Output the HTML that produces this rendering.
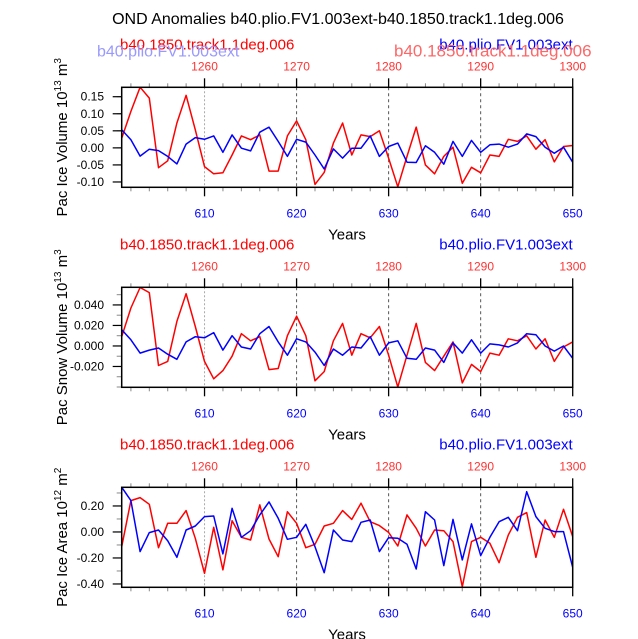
<!DOCTYPE html>
<html><head><meta charset="utf-8"><style>
html,body{margin:0;padding:0;background:#fff;}
svg{display:block;font-family:"Liberation Sans",sans-serif;}
</style></head><body>
<svg id="c" width="638" height="639" viewBox="0 0 638 639" xmlns="http://www.w3.org/2000/svg">
<text x="338" y="24" font-size="16" text-anchor="middle">OND Anomalies b40.plio.FV1.003ext-b40.1850.track1.1deg.006</text>
</svg>
<script>
const years = []; for (let y = 601; y <= 650; y++) years.push(y);
const iceVolRed = [0.028,0.107,0.178,0.146,-0.058,-0.038,0.073,0.154,0.053,-0.055,-0.076,-0.073,-0.021,0.035,0.024,0.038,-0.068,-0.068,0.035,0.079,0.024,-0.107,-0.072,0.014,0.073,-0.021,0.038,0.033,0.05,-0.03,-0.114,-0.025,0.061,-0.05,-0.076,-0.025,0.002,-0.104,-0.057,-0.073,-0.021,-0.025,0.025,0.019,0.035,-0.004,0.024,-0.041,0.004,0.007];
const iceVolBlue = [0.053,0.024,-0.024,-0.004,-0.008,-0.025,-0.047,0.011,0.03,0.025,0.035,-0.013,0.038,-0.001,-0.009,0.046,0.061,0.019,-0.025,0.025,0.017,-0.021,-0.062,-0.003,-0.03,-0.001,-0.001,0.035,-0.025,0.004,0.014,-0.042,-0.043,0.006,-0.013,-0.048,0.019,-0.025,0.022,-0.013,0.009,0.011,0.002,0.011,0.041,0.033,0.002,-0.016,0.002,-0.042];
const snowRed = [0.009,0.037,0.057,0.052,-0.019,-0.015,0.024,0.051,0.019,-0.015,-0.032,-0.024,-0.01,0.012,0.005,0.009,-0.023,-0.022,0.01,0.029,0.01,-0.034,-0.025,0.005,0.022,-0.009,0.012,0.008,0.019,-0.009,-0.04,-0.009,0.022,-0.016,-0.024,-0.01,0.004,-0.036,-0.018,-0.025,-0.007,-0.009,0.007,0.005,0.01,-0.003,0.007,-0.015,-0.001,0.004];
const snowBlue = [0.016,0.006,-0.007,-0.004,-0.002,-0.008,-0.013,0.004,0.009,0.008,0.013,-0.004,0.01,-0.001,-0.003,0.012,0.019,0.004,-0.009,0.007,0.004,-0.006,-0.019,-0.003,-0.009,-0.001,-0.002,0.009,-0.009,0.003,0.005,-0.012,-0.013,-0.002,-0.004,-0.016,0.003,-0.007,0.006,-0.007,0.002,0.001,-0.001,0.003,0.012,0.011,0,-0.005,0,-0.012];
const areaRed = [-0.113,0.241,0.264,0.213,-0.121,0.067,0.067,0.164,-0.049,-0.318,0.036,-0.292,0.087,-0.041,-0.062,0.208,-0.054,-0.19,0.156,0.067,-0.121,-0.095,0.046,0.067,0.164,0.097,0.221,0.079,0.049,-0.003,-0.108,0.131,0.028,-0.108,0.015,0.01,-0.074,-0.421,-0.074,-0.041,-0.087,-0.236,-0.023,0.113,0.149,-0.195,0.092,-0.041,0.174,-0.036];
const areaBlue = [0.344,0.241,-0.151,-0.005,0.015,-0.067,-0.195,0.015,0.046,0.118,0.123,-0.169,0.182,-0.041,0.01,0.131,0.231,0.105,-0.056,-0.041,0.059,-0.113,-0.313,0.015,-0.062,-0.074,0.074,0.092,-0.151,-0.044,-0.049,-0.095,-0.285,0.156,0.092,-0.259,0.097,-0.215,0.062,-0.182,-0.041,0.079,0.113,0.01,0.31,0.118,0.028,0.003,0.003,-0.272];
const xTicks = [610,620,630,640,650];
const topTicks = ["1260","1270","1280","1290","1300"];
const ticks1 = [0.15,0.10,0.05,0.00,-0.05,-0.10];
const labels1 = ["0.15","0.10","0.05","0.00","-0.05","-0.10"];
const ticks2 = [0.04,0.02,0,-0.02];
const labels2 = ["0.040","0.020","0.000","-0.020"];
const ticks3 = [0.2,0,-0.2,-0.4];
const labels3 = ["0.20","0.00","-0.20","-0.40"];

const NS = "http://www.w3.org/2000/svg";
const svg = document.getElementById('c');
function mk(tag, attrs, parent, txt){const e=document.createElementNS(NS,tag);for(const k in attrs)e.setAttribute(k,attrs[k]);if(txt!==undefined)e.textContent=txt;(parent||svg).appendChild(e);return e;}

const L=121.7, R=572.7;
function xs(y){return L+(y-601)*(R-L)/49;}

function panel(id, top, ymax, ymin, red, blue, ticks, labels, minorStep, titleMain, supExp, unitSup, faint){
  const bot=top+100;
  const g=mk('g',{});
  
  
  const ys=v=>top+(ymax-v)/(ymax-ymin)*100;
  // headers
  const h1=mk('text',{x:120,y:top-38,'font-size':15,fill:'#f00'},g,'b40.1850.track1.1deg.006');
  
  
  const h2=mk('text',{x:R,y:top-38,'font-size':15,fill:'#00f','text-anchor':'end'},g,'b40.plio.FV1.003ext');
  
  
  if(faint){
    mk('text',{x:97,y:top-31,'font-size':16,fill:'#99f'},g,'b40.plio.FV1.003ext');
    mk('text',{x:394,y:top-31,'font-size':17,fill:'#f66'},g,'b40.1850.track1.1deg.006');
  }
  // grid
  [610,620,630,640].forEach(yy=>{
    const gl=mk('line',{x1:xs(yy),x2:xs(yy),y1:top,y2:bot,stroke:yy==610?'#aaa':'#555','stroke-width':1,'stroke-dasharray':yy==610?'2,2':'3,3'},g);
    
    
  });
  // x ticks
  for(let yy=602;yy<=650;yy+=2){
    const maj=yy%10==0;
    mk('line',{x1:xs(yy),x2:xs(yy),y1:top,y2:top-(maj?9:4),stroke:maj?'#000':'#888','stroke-width':maj?1.3:1},g);
    mk('line',{x1:xs(yy),x2:xs(yy),y1:bot,y2:bot+(maj?9:4),stroke:maj?'#000':'#888','stroke-width':maj?1.3:1},g);
  }
  xTicks.forEach((yy,i)=>{
    const t=mk('text',{x:xs(yy),y:bot+30,'font-size':12,fill:'#00f','text-anchor':'middle'},g,String(yy));
    
    
    const t2=mk('text',{x:xs(yy),y:top-17,'font-size':12,fill:'#f33','text-anchor':'middle'},g,topTicks[i]);
    
    
  });
  const xt=mk('text',{x:347,y:bot+52,'font-size':15,'text-anchor':'middle'},g,'Years');
  
  
  // y minor ticks
  for(let v=Math.ceil(ymin/minorStep)*minorStep; v<=ymax; v+=minorStep){
    mk('line',{x1:L,x2:L-5,y1:ys(v),y2:ys(v),stroke:'#888'},g);
  }
  ticks.forEach((v,i)=>{
    mk('line',{x1:L,x2:L-9,y1:ys(v),y2:ys(v),stroke:'#000','stroke-width':1.2},g);
    const t=mk('text',{x:104,y:ys(v)+4,'font-size':12,'text-anchor':'end'},g,labels[i]);
    
    
  });
  // y title
  const yt=mk('text',{transform:`translate(67,${top+50}) rotate(-90)`,'font-size':15,'text-anchor':'middle'},g);
  
  
  mk('tspan',{},yt,titleMain+' 10');
  mk('tspan',{dy:-6,'font-size':10},yt,supExp);
  mk('tspan',{dy:6},yt,' m');
  mk('tspan',{dy:-6,'font-size':10},yt,unitSup);
  // series
  const clip=mk('clipPath',{id:id+'-clip'},g);
  mk('rect',{x:L,y:top,width:R-L,height:100},clip);
  [[red,'#f00','red-series'],[blue,'#00f','blue-series']].forEach(([d,c,n])=>{
    const p=mk('polyline',{points:d.map((v,i)=>xs(years[i]).toFixed(1)+','+ys(v).toFixed(1)).join(' '),fill:'none',stroke:c,'stroke-width':1.5,'stroke-linejoin':'round','clip-path':`url(#${id}-clip)`},g);
    
    
  });
  const fr=mk('rect',{x:L,y:top,width:R-L,height:100,fill:'none',stroke:'#000','stroke-width':1.5},g);
  
  
}
panel('ice-volume-panel',87.3,0.1776,-0.1156,iceVolRed,iceVolBlue,ticks1,labels1,0.05,'Pac Ice Volume','13','3',true);
panel('snow-volume-panel',287.3,0.0572,-0.0403,snowRed,snowBlue,ticks2,labels2,0.01,'Pac Snow Volume','13','3',false);
panel('ice-area-panel',487.3,0.3436,-0.4256,areaRed,areaBlue,ticks3,labels3,0.1,'Pac Ice Area','12','2',false);
</script>
</body></html>
